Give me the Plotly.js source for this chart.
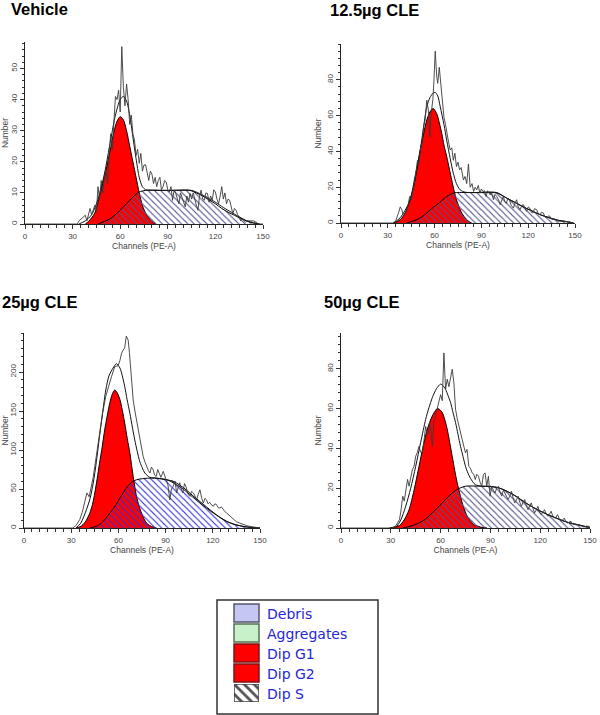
<!DOCTYPE html>
<html><head><meta charset="utf-8">
<script src="https://cdn.plot.ly/plotly-3.0.1.min.js"></script>
<style>html,body{margin:0;padding:0;background:#fff}#chart{width:600px;height:715px}</style>
</head><body><div id="chart"></div>
<script>
// ---------------- DATA ----------------
const panelTitles = ['Vehicle', '12.5µg CLE', '25µg CLE', '50µg CLE'];
const channelTicks = [0, 30, 60, 90, 120, 150];
const yTickSets = [[0,10,20,30,40,50], [0,20,40,60,80], [0,50,100,150,200], [0,20,40,60,80]];
const yAxisMax = [58.5, 100, 250, 98];
const peakMarkerChannel = [61, 60, null, null];
const legendLabels = ['Debris', 'Aggregates', 'Dip G1', 'Dip G2', 'Dip S'];

// Vehicle: [channel, count]
const vehicleRaw = [[0,0],[33,0],[34,1],[36,2],[38,2.8],[39,1],[40,3],[41,5],[42,3],[44,6],[45,4],[46,12],[47,8],[48,14],[49,10],[50,15],[51,17],[52,13],[53,22],[54,29],[55,24],[56,33],[57,41],[58,40],[59,43],[60,36],[61,57],[62,44],[63,38],[64,45],[65,40],[66,32],[67,35],[68,29],[69,27],[70,22],[71,24],[72,19.5],[73,22.7],[74,17],[75,19],[76,19],[77,16],[78,14],[79,17],[80,16],[81,13],[82,15],[83,12],[84,14],[85,15],[86,11],[87,12],[88,14],[89,13.5],[90,11],[91,10.3],[92,12],[93,7.6],[94,11],[95,9.8],[96,8],[97,6.5],[98,10],[99,8.7],[100,7],[101,5.5],[102,9],[103,7],[104,9.8],[105,8],[106,10],[107,7.6],[108,6],[109,4.4],[110,9],[111,10.9],[112,8],[113,7.6],[114,10],[115,9.8],[116,7],[117,9],[118,7.6],[119,11],[120,10.3],[121,8],[122,6.5],[123,9],[124,12],[125,8],[126,10],[127,6.5],[128,8],[129,7.6],[130,5],[131,3.3],[132,5],[133,4.4],[134,3],[135,2.3],[136,1],[137,1.7],[138,1],[139,0.6],[140,1],[142,1],[144,1],[146,0.5],[147,0],[150,0]];
const vehicleFit = [[34,0],[38,1],[42,3],[46,8],[50,16],[54,27],[57,35],[60,40],[62,41],[64,39.5],[66,35],[68,28],[70,21],[72,15],[74,12],[76,11],[78,10.9],[85,10.8],[95,10.8],[105,10.8],[110,9.8],[115,8.5],[120,7],[125,5.3],[130,3.8],[135,2.3],[140,1],[145,0.3],[148,0]];
const vehicleG1 = [[38,0],[40,0.8],[42,2],[44,3.5],[46,7],[48,11],[50,15],[52,19.5],[54,24.5],[56,29.5],[58,33],[60,34.5],[62,33.5],[64,30],[66,25],[68,20],[70,15],[72,10],[74,6],[76,3.5],[78,2],[80,0.8],[82,0]];
const vehicleS = [[46,0],[50,0.8],[54,1.8],[58,3.5],[62,5.5],[66,7.6],[70,9.6],[72,10.3],[76,10.8],[90,10.8],[104,10.8],[108,10],[112,9],[116,7.8],[120,6.5],[124,5],[128,3.8],[132,2.8],[136,1.8],[140,0.9],[144,0.3],[147,0]];

// 12.5 µg CLE
const cle12Raw = [[0,0],[33,0],[35,1],[36,3],[37,6],[38,9],[39,7.4],[40,4],[41,5],[42,7],[43,10],[44,14.8],[45,13],[46,18],[47,22],[48,28],[49,35],[50,33],[51,42],[52,45],[53,54],[54,58],[55,68.6],[56,63],[57,48],[57.6,60],[58.9,69],[59.6,80],[60.4,96],[61.4,81.6],[62,78],[63,87],[64,76],[64.6,70.5],[66,59],[67,55],[67.8,50],[69,45],[70,40.8],[71,42],[72,35],[73,39],[74,31.5],[75,34],[76,29.7],[77,31],[78.5,24],[79.5,26],[80.6,22],[81.7,33],[82.8,20],[84,22],[85,17.6],[86,20],[87,18.5],[88,21],[89,16.7],[90,19],[91,17.6],[92,18],[93,14.8],[94,18],[95.6,15.7],[96.5,17],[97.7,13],[98.7,16],[99.8,14.8],[101,13],[102,10.2],[103,13],[104,14.8],[105,12],[106,11],[107,14],[108,13],[109,10],[110.5,8.3],[111.5,11],[112.6,13],[113.6,9],[114.8,7.4],[116,10],[117,10.2],[118,8],[119,6.5],[120,9],[121,8.3],[122,6],[123,5.6],[124,8],[125.5,7.4],[126.5,5],[127.6,4.6],[128.5,6],[129.7,5.6],[130.7,3.5],[131.8,2.8],[133,4],[134,3.7],[135,2],[136,1.9],[137,2.2],[138,1.5],[140,0.9],[142,1.2],[144.6,0.7],[146,0.5],[147.8,0.2],[149,0]];
const cle12Fit = [[34,0],[38,3],[41,7],[44.4,13],[47,24],[50.8,40.8],[53,54],[55,65],[57,70],[59,72.5],[60.4,73],[62,71],[63.6,65],[66,55],[67.8,46],[70,36],[72,27.8],[74,22],[76.4,18.5],[79.6,17.2],[85,17],[95,17],[99.8,16.8],[106,14],[112.6,11],[118,8.5],[123,6.5],[128,4.6],[134,2.8],[139,1.6],[144.6,0.8],[149,0.1]];
const cle12G1 = [[33.7,0],[36,0.8],[38,1.9],[40,4],[42,7.4],[44,12.5],[46.5,20],[48.5,29],[50.8,40.8],[53,50],[55,57.5],[57,62],[59,64],[61.4,61],[63,56],[64.6,50],[66,43.5],[67.8,37],[69.5,30],[71,24],[72.5,18],[74,13],[75.7,9],[77.4,5.6],[79,3.5],[80.6,1.9],[82,0.8],[83.8,0]];
const cle12S = [[42,0],[45,0.8],[48.6,1.9],[52,3.5],[55,5.6],[58,8],[61.4,10.2],[64.6,12.5],[67.8,14.8],[70,15.9],[72,16.7],[74,17],[85,17],[99.8,17],[106,14],[112.6,11],[118,8.5],[123,6.5],[128,4.5],[134,2.8],[139,1.5],[144.6,0.7],[149,0]];

// 25 µg CLE
const cle25Raw = [[0,0],[31,0],[33,3],[35.4,10.7],[37,20],[38.6,32],[40,45],[41.4,40],[43,53],[44,65],[45,79],[46.5,100],[48,126],[50,148],[52,169],[54,185],[55.6,194],[57.7,207],[59.8,208],[61,215],[62,224],[63,228],[64,231],[65,246],[66.2,241],[67,225],[67.7,207],[68.5,185],[69.4,164],[70.5,150],[71.5,139],[72.5,125],[73.6,113],[74.6,100],[75.7,92],[76.8,85],[77.9,79],[79,74],[80,70.5],[81,78],[82,75],[83,68],[84,66],[85,75],[86,70],[87,65],[88.5,72.6],[89.5,66],[90.6,62],[91.5,55],[92.7,36],[93.7,50],[94.8,53],[96,60],[97,45],[98,52],[99,58],[100,50],[101,45],[102,57],[103,53],[104,44],[105.5,40.6],[106.5,47],[107.6,45],[108.5,42],[109.7,36],[110.7,43],[111.8,49],[113,38],[114,32],[115,38],[116,36],[117,31],[118,33],[119,30],[120.3,27.8],[121.3,31],[122.4,30],[123.5,26],[124.5,25.6],[125.5,27],[126.7,23.5],[127.7,21],[128.8,19.2],[130,17],[131,15],[132,13],[133,10.7],[135,8],[137,6.4],[139,4.5],[141.5,3],[143.5,2],[145.8,1],[148,0.5],[150,0]];
const cle25Fit = [[33,0],[36,6],[39.7,23.5],[42,38],[44,57.7],[46,85],[48,117.5],[50,148],[52,177],[54,195],[56.6,205],[58.8,210.7],[61,205],[62.5,195],[64,181.6],[65.5,165],[67.3,147],[69,128],[70.4,113],[72,98],[73.6,85],[75.2,77],[76.8,70.5],[80,65],[84,64],[90.6,62],[97,55.5],[103,47],[107,40],[111.8,32],[116,25.5],[120.3,19.2],[124.5,13.5],[128.8,8.5],[133,5.2],[137,3],[141,1.5],[145.8,0.6],[150,0]];
const cle25G1 = [[33.3,0],[35.5,1.5],[37.5,4.3],[39.5,9.5],[41.8,19],[43.5,30],[45,45],[46.5,63],[48,83],[49.7,104],[51.3,126],[53,145],[54.5,160],[56,171],[57.7,177],[59.3,173],[61,164.5],[62.5,151],[64,134.6],[65.6,115],[67.3,96],[68.4,80],[69.4,66],[70.5,52],[71.5,40.6],[73,29],[74.7,19.2],[76.3,11.5],[77.9,6.4],[80,3],[82,1.3],[84.2,0]];
const cle25S = [[41.8,0],[45,1.5],[48,4.3],[51,10],[54.5,19],[58,28.5],[61,38.5],[63,45],[65,51],[67,56],[69.4,60],[71.5,61.8],[73.6,62.8],[77,63.6],[80,64],[84,63.8],[88.5,62.5],[91.5,61.5],[94.8,60],[99,55],[103,49],[107,42],[111.8,34],[116,27],[120.3,20],[124.5,13.8],[128.8,8.5],[133,5],[137,3],[141,1.5],[145.8,0.6],[150,0]];

// 50 µg CLE
const cle50Raw = [[0,0],[31,0],[33,1],[35.2,4.2],[36,8],[37.2,16],[38.1,13.5],[39,18],[40.1,24.4],[41,21],[42,25],[43,29.4],[44,31],[45,36],[46,38],[47,41],[48,38],[49,37.8],[50,44],[51,51],[52,47],[52.7,48],[53.4,53],[54.2,49],[55,41],[56,53],[57.4,58],[58.2,61],[59,63],[60,67],[61,64],[62,88],[63,69.7],[64,74.8],[65,71],[66,75],[67,79.8],[68,73],[69,59.7],[70,55],[71,51],[72,48],[73,44.5],[74,41],[75,37.8],[75.9,39.5],[77,31],[78,30],[79,27.7],[80,27],[80.9,24.4],[81.8,27],[82.8,26],[83.8,23],[84.8,21],[85.8,26.9],[86.8,27.7],[87.8,21],[88.8,26],[89.8,16],[90.8,21],[91.8,19],[92.8,17.6],[93.8,20],[94.8,21],[95.8,18],[96.8,16],[97.8,19],[98.7,17.6],[99.7,16],[100.7,14.3],[101.7,16],[102.7,18.5],[103.7,15],[104.7,12.6],[105.7,14],[106.7,16],[107.7,13],[108.7,10.9],[109.7,13],[110.7,14.3],[111.7,11],[112.7,9.2],[113.7,11],[114.6,12.6],[115.6,10],[116.6,7.6],[117.6,9],[118.6,10.9],[119.6,8],[120.6,6.7],[121.6,8],[122.6,9.2],[123.6,7],[124.6,5.9],[125.6,7],[126.6,8.4],[127.6,6],[128.6,5],[129.6,5.5],[130.5,6.7],[131.5,4.5],[132.5,3.4],[133.5,4],[134.5,5],[135.5,3],[136.5,2.5],[137.5,3],[138.5,3.4],[139.5,2],[140.5,1.7],[142,1.5],[143.5,1.7],[145,0.8],[146.4,0.5],[148,1],[149.4,0.8],[150,0]];
const cle50Fit = [[33,0],[36,4],[39,11],[42,20],[45,31],[48,43],[51,54.6],[53,60.5],[55,65.5],[57.5,70],[60,72.3],[61.5,71.5],[63,69.7],[64.5,66.5],[66,63],[67.5,58],[69,53],[70.5,47],[72,41],[73.5,36],[75,31],[76.5,27.5],[78,25],[80.9,21.8],[84.8,21],[90.8,20.9],[96.8,19.7],[100.7,18.2],[104.7,16.3],[109.7,13.5],[114.6,10.9],[119.6,8.7],[124.6,6.7],[129.6,5],[134.5,3.4],[138.5,2.4],[142.5,1.7],[146,1],[148.4,0.5],[150,0.3]];
const cle50G1 = [[29.2,0],[32,0.5],[35.2,1.2],[38,4],[41,9.2],[44,19],[47,31],[49.5,41],[52,49.6],[55,56.3],[58,60],[59.5,59.5],[61,58],[62.5,54.5],[64,49.6],[65.5,43],[67,36],[68.5,29],[70,22.7],[71.5,17.5],[73,12.6],[74.5,9],[76,5.9],[78,3.5],[80,1.7],[84,0.5],[88,0]];
const cle50S = [[37,0],[40,0.5],[43,1.2],[46,2.2],[49,3.4],[52,5.2],[55,7.6],[58,10],[61,12.6],[64,15.2],[67,17.6],[69.5,19.2],[72,20.2],[75,21],[84.8,21],[90,20.8],[94.8,20.2],[99.7,18.5],[104.7,16.3],[109.7,13.5],[114.6,10.9],[119.6,8.7],[124.6,6.7],[129.6,5],[134.5,3.4],[138.5,2.4],[142.5,1.7],[146,1],[148.4,0.5],[150,0.3]];

// ---------------- STYLE / LAYOUT ----------------
const W = 600, H = 715;
const px = v => v / W, py = v => 1 - v / H;
const panelBoxes = [ // [left, right, top, bottom] in pixels
  [25, 263, 42, 224], [341, 575, 44, 223], [24, 260, 333, 528], [341, 590, 333, 528]
];
const titleAt = [[9, 9.5], [328, 10], [0, 302], [322, 302]];
const hatchColors = ['#50508a', '#50508a', '#3030d8', '#50508a'];
const minorY = [2, 4, 10, 4];
const rawSets = [vehicleRaw, cle12Raw, cle25Raw, cle50Raw];
const fitSets = [vehicleFit, cle12Fit, cle25Fit, cle50Fit];
const g1Sets = [vehicleG1, cle12G1, cle25G1, cle50G1];
const sSets = [vehicleS, cle12S, cle25S, cle50S];

const xs = a => a.map(p => p[0]);
const ys = a => a.map(p => p[1]);

const traces = [];
const layout = {
  width: W, height: H, margin: {l: 0, r: 0, t: 0, b: 0},
  paper_bgcolor: '#fff', plot_bgcolor: 'rgba(0,0,0,0)',
  showlegend: false,
  font: {family: 'Liberation Sans, Arial, sans-serif', color: '#333'},
  annotations: [], shapes: []
};

const axisFontTitle = {family: 'Liberation Sans Narrow, Liberation Sans, Arial', size: 8.5, color: '#444'};
const tickFont = {family: 'Liberation Sans, Arial', size: 8, color: '#444'};

for (let i = 0; i < 4; i++) {
  const n = i + 1;
  const xa = 'x' + n, ya = 'y' + n;
  const [l, r, t, b] = panelBoxes[i];
  const common = {type: 'scatter', mode: 'lines', xaxis: xa, yaxis: ya, hoverinfo: 'skip', showlegend: false};
  // Dip G1 (red)
  traces.push(Object.assign({}, common, {
    x: xs(g1Sets[i]), y: ys(g1Sets[i]), name: 'Dip G1',
    fill: 'tozeroy', fillcolor: '#ff0000',
    line: {color: '#000', width: 1, shape: 'spline', smoothing: 0.8}
  }));
  // Dip S (hatched)
  traces.push(Object.assign({}, common, {
    x: xs(sSets[i]), y: ys(sSets[i]), name: 'Dip S',
    fill: 'tozeroy', fillcolor: 'rgba(0,0,0,0)',
    fillpattern: {shape: '\\', fgcolor: hatchColors[i], bgcolor: 'rgba(0,0,0,0)', size: 4.5, solidity: 0.25, fillmode: 'replace'},
    line: {color: '#000', width: 1, shape: 'spline', smoothing: 0.8}
  }));
  // model fit
  traces.push(Object.assign({}, common, {
    x: xs(fitSets[i]), y: ys(fitSets[i]), name: 'Fit',
    line: {color: '#111', width: 1, shape: 'spline', smoothing: 0.8}
  }));
  // raw histogram
  traces.push(Object.assign({}, common, {
    x: xs(rawSets[i]), y: ys(rawSets[i]), name: 'Data',
    line: {color: '#3a3a3a', width: 0.9}
  }));
  // peak marker triangle under axis
  if (peakMarkerChannel[i] !== null) {
    const yOff = -yAxisMax[i] * 3.6 / (b - t);
    traces.push(Object.assign({}, common, {
      mode: 'markers', x: [peakMarkerChannel[i]], y: [yOff], cliponaxis: false,
      marker: {symbol: 'triangle-up', size: 8, color: '#000'}
    }));
  }

  layout['xaxis' + n] = {
    domain: [px(l), px(r)], anchor: ya, range: [0, 150],
    tickmode: 'array', tickvals: channelTicks, ticktext: channelTicks.map(String),
    ticks: 'outside', ticklen: 4, tickwidth: 1, tickcolor: '#333', ticklabeloverflow: 'allow',
    minor: {dtick: 5, tick0: 0, ticks: 'outside', ticklen: 2.5, tickcolor: '#333', tickwidth: 1},
    showline: true, linecolor: '#222', linewidth: 1,
    showgrid: false, zeroline: false, tickfont: tickFont,
    title: {text: 'Channels (PE-A)', font: axisFontTitle, standoff: 1}
  };
  layout['yaxis' + n] = {
    domain: [py(b), py(t)], anchor: xa, range: [0, yAxisMax[i]],
    tickmode: 'array', tickvals: yTickSets[i], ticktext: yTickSets[i].map(String), tickangle: -90,
    ticks: 'outside', ticklen: 4, tickwidth: 1, tickcolor: '#333', ticklabeloverflow: 'allow',
    minor: {dtick: minorY[i], tick0: 0, ticks: 'outside', ticklen: 2.5, tickcolor: '#333', tickwidth: 1},
    showline: true, linecolor: '#222', linewidth: 1,
    showgrid: false, zeroline: false, tickfont: tickFont,
    title: {text: 'Number', font: axisFontTitle, standoff: 2}
  };
  layout.annotations.push({
    text: '<b>' + panelTitles[i] + '</b>', xref: 'paper', yref: 'paper',
    x: px(titleAt[i][0]), y: py(titleAt[i][1]), xanchor: 'left', yanchor: 'middle',
    showarrow: false, font: {family: 'Liberation Sans, Arial', size: 16.5, color: '#000'}
  });
}

// ---------------- LEGEND BOX ----------------
layout.shapes.push({type: 'rect', xref: 'paper', yref: 'paper',
  x0: px(217), x1: px(378), y0: py(714), y1: py(600),
  line: {color: '#333', width: 1.5}, fillcolor: '#fff', layer: 'below'});
const swatchFill = ['#c6c6f2', '#c9f1c9', '#ff0000', '#ff0000'];
const swatchLine = ['#555570', '#557055', '#7a1515', '#7a1515'];
const swatchTop = [604, 624, 644, 664, 684];
for (let k = 0; k < 5; k++) {
  if (k < 4) {
    layout.shapes.push({type: 'rect', xref: 'paper', yref: 'paper',
      x0: px(234), x1: px(259), y0: py(swatchTop[k] + 18), y1: py(swatchTop[k]),
      line: {color: swatchLine[k], width: 1.5}, fillcolor: swatchFill[k]});
  }
  layout.annotations.push({
    text: legendLabels[k], xref: 'paper', yref: 'paper',
    x: px(265), y: py(swatchTop[k] + 9.5), xanchor: 'left', yanchor: 'middle', showarrow: false,
    font: {family: 'DejaVu Sans, Verdana, sans-serif', size: 14, color: '#2626d6'}
  });
}
// hatched Dip S swatch on a small hidden axis
layout.xaxis5 = {domain: [px(234), px(259)], range: [0, 1], visible: false, anchor: 'y5', fixedrange: true};
layout.yaxis5 = {domain: [py(702), py(684)], range: [0, 1], visible: false, anchor: 'x5', fixedrange: true};
traces.push({type: 'scatter', mode: 'lines', xaxis: 'x5', yaxis: 'y5', hoverinfo: 'skip', showlegend: false,
  x: [0, 1, 1, 0, 0], y: [0, 0, 1, 1, 0], fill: 'toself', fillcolor: '#fff',
  fillpattern: {shape: '\\', fgcolor: '#555', bgcolor: '#fff', size: 7, solidity: 0.4, fillmode: 'replace'},
  line: {color: '#444', width: 1.5}, cliponaxis: false});

Plotly.newPlot('chart', traces, layout, {displayModeBar: false, staticPlot: true});
</script>
</body></html>
